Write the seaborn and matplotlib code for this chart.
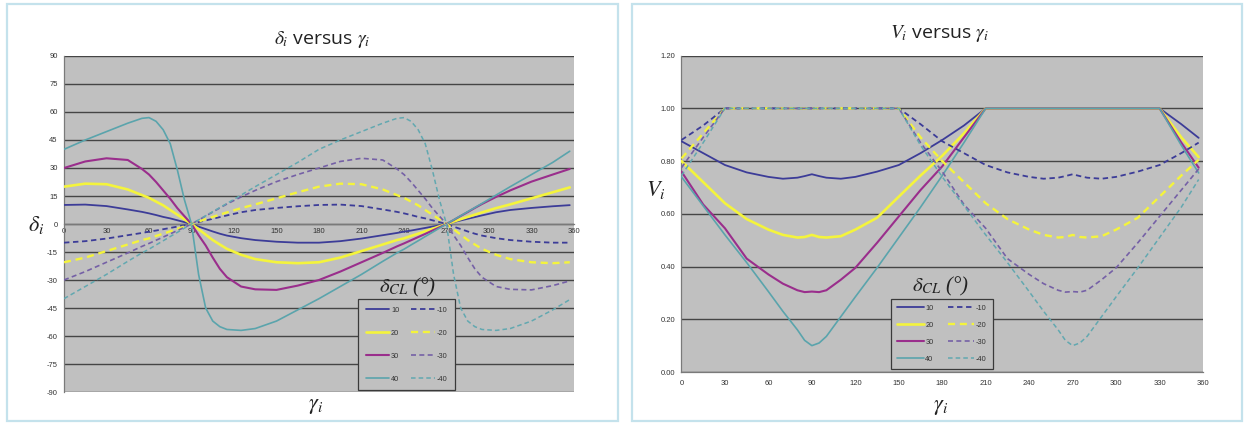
import matplotlib
matplotlib.use('Agg')
import matplotlib.pyplot as plt
import seaborn as sns
from matplotlib.lines import Line2D
from matplotlib.patches import Rectangle

# ---- left chart: delta_i versus gamma_i ----
gamma_d = [0, 15, 30, 45, 55, 60, 65, 70, 75, 80, 85, 90, 95, 100, 105, 110, 115, 125, 135, 150,
           165, 180, 195, 210, 225, 235, 240, 245, 250, 255, 260, 265, 270, 275, 280, 285, 290,
           295, 305, 315, 330, 345, 357]

delta_p10 = [10.2, 10.4, 9.6, 7.8, 6.5, 5.7, 4.8, 3.8, 3, 2, 1, 0, -1.4, -2.7, -4, -5.2, -6.2,
             -7.6, -8.6, -9.5, -10, -10, -9.2, -7.8, -6, -4.8, -4.1, -3.5, -2.8, -2.1, -1.4, -0.7,
             0, 1, 1.9, 2.8, 3.7, 4.6, 6.3, 7.5, 8.6, 9.5, 10.1]
delta_p20 = [20, 21.6, 21.3, 18.5, 15.5, 14, 12, 10, 7.5, 5, 2.5, 0, -2.8, -5.7, -8.6, -11, -13.3,
             -16.5, -18.8, -20.5, -21, -20.5, -18, -14.5, -11, -8.6, -7.7, -6.4, -5.2, -3.9, -2.6,
             -1.3, 0, 1.3, 2.6, 3.8, 5, 6.2, 8.5, 10.5, 13.75, 17, 19.6]
delta_p30 = [30, 33.5, 35.2, 34.3, 29.5, 26.5, 22.5, 18, 13.5, 8.5, 4.2, 0, -6, -11.5, -18, -24,
             -28.5, -33.5, -35, -35.3, -33, -30, -25.5, -20.5, -15.5, -12, -10.4, -8.7, -7, -5.3,
             -3.5, -1.8, 0, 2.1, 4.3, 6.4, 8.6, 10.7, 14.5, 18, 22.7, 26.5, 29.5]
delta_p40 = [40, 45, 49.5, 54, 56.6, 57, 55, 50.5, 43, 29, 13, 0, -27, -45, -52, -55, -56.5, -57,
             -56, -52, -46, -40, -33.5, -27, -20, -15.5, -13.5, -11.2, -9, -6.7, -4.5, -2.2, 0,
             2.2, 4.4, 6.6, 8.8, 11, 15.5, 20, 26.5, 33, 39]
delta_m10 = [-10, -9.2, -7.8, -6, -4.8, -4.1, -3.5, -2.8, -2.1, -1.4, -0.7, 0, 1, 1.9, 2.8, 3.7,
             4.6, 6.3, 7.5, 8.6, 9.5, 10.2, 10.4, 9.6, 7.8, 6.5, 5.7, 4.8, 3.8, 3, 2, 1, 0, -1.4,
             -2.7, -4, -5.2, -6.2, -7.6, -8.6, -9.5, -10, -10]
delta_m20 = [-20.5, -18, -14.5, -11, -8.6, -7.7, -6.4, -5.2, -3.9, -2.6, -1.3, 0, 1.3, 2.6, 3.8,
             5, 6.2, 8.5, 10.5, 13.75, 17, 20, 21.6, 21.3, 18.5, 15.5, 14, 12, 10, 7.5, 5, 2.5, 0,
             -2.8, -5.7, -8.6, -11, -13.3, -16.5, -18.8, -20.5, -21, -20.5]
delta_m30 = [-30, -25.5, -20.5, -15.5, -12, -10.4, -8.7, -7, -5.3, -3.5, -1.8, 0, 2.1, 4.3, 6.4,
             8.6, 10.7, 14.5, 18, 22.7, 26.5, 30, 33.5, 35.2, 34.3, 29.5, 26.5, 22.5, 18, 13.5,
             8.5, 4.2, 0, -6, -11.5, -18, -24, -28.5, -33.5, -35, -35.3, -33, -30.5]
delta_m40 = [-40, -33.5, -27, -20, -15.5, -13.5, -11.2, -9, -6.7, -4.5, -2.2, 0, 2.2, 4.4, 6.6,
             8.8, 11, 15.5, 20, 26.5, 33, 40, 45, 49.5, 54, 56.6, 57, 55, 50.5, 43, 29, 13, 0, -27,
             -45, -52, -55, -56.5, -57, -56, -52, -46, -40.5]

# ---- right chart: V_i versus gamma_i ----
gamma_v = [0, 15, 30, 45, 60, 70, 80, 85, 90, 95, 100, 110, 120, 135, 150, 165, 180, 195, 210,
           225, 240, 250, 260, 265, 270, 275, 280, 290, 300, 315, 330, 345, 357]

v_p10 = [0.875, 0.83, 0.785, 0.757, 0.74, 0.733, 0.737, 0.743, 0.75, 0.743, 0.737, 0.733, 0.74,
         0.76, 0.785, 0.83, 0.88, 0.935, 1, 1, 1, 1, 1, 1, 1, 1, 1, 1, 1, 1, 1, 0.94, 0.888]
v_p20 = [0.80, 0.72, 0.64, 0.58, 0.54, 0.52, 0.51, 0.512, 0.52, 0.512, 0.51, 0.515, 0.54, 0.585,
         0.665, 0.745, 0.82, 0.905, 1, 1, 1, 1, 1, 1, 1, 1, 1, 1, 1, 1, 1, 0.89, 0.815]
v_p30 = [0.76, 0.635, 0.545, 0.43, 0.37, 0.335, 0.31, 0.303, 0.305, 0.303, 0.31, 0.35, 0.395,
         0.49, 0.59, 0.69, 0.78, 0.89, 1, 1, 1, 1, 1, 1, 1, 1, 1, 1, 1, 1, 1, 0.87, 0.775]
v_p40 = [0.74, 0.63, 0.52, 0.415, 0.305, 0.23, 0.16, 0.12, 0.10, 0.11, 0.135, 0.21, 0.285,
         0.395, 0.51, 0.625, 0.745, 0.87, 1, 1, 1, 1, 1, 1, 1, 1, 1, 1, 1, 1, 1, 0.86, 0.755]
v_m10 = [0.88, 0.935, 1, 1, 1, 1, 1, 1, 1, 1, 1, 1, 1, 1, 1, 0.94, 0.875, 0.83, 0.785, 0.757,
         0.74, 0.733, 0.737, 0.743, 0.75, 0.743, 0.737, 0.733, 0.74, 0.76, 0.785, 0.83, 0.87]
v_m20 = [0.81, 0.905, 1, 1, 1, 1, 1, 1, 1, 1, 1, 1, 1, 1, 1, 0.89, 0.80, 0.72, 0.64, 0.58, 0.54,
         0.52, 0.51, 0.512, 0.52, 0.512, 0.51, 0.515, 0.54, 0.585, 0.665, 0.745, 0.805]
v_m30 = [0.775, 0.89, 1, 1, 1, 1, 1, 1, 1, 1, 1, 1, 1, 1, 1, 0.87, 0.76, 0.635, 0.545, 0.43,
         0.37, 0.335, 0.31, 0.303, 0.305, 0.303, 0.31, 0.35, 0.395, 0.49, 0.59, 0.69, 0.77]
v_m40 = [0.745, 0.87, 1, 1, 1, 1, 1, 1, 1, 1, 1, 1, 1, 1, 1, 0.86, 0.74, 0.63, 0.52, 0.415,
         0.305, 0.23, 0.16, 0.12, 0.10, 0.11, 0.135, 0.21, 0.285, 0.395, 0.51, 0.625, 0.73]

labels_pos = ['10', '20', '30', '40']
labels_neg = ['-10', '-20', '-30', '-40']

col_pos = ['#3c3c98', '#f4f43c', '#9a2e8c', '#5aa4ac']
col_neg = ['#3c3c98', '#f4f43c', '#7560a6', '#62a8b0']
lw_pos = [1.3, 1.9, 1.5, 1.2]
lw_neg = [1.3, 1.7, 1.2, 1.1]
dash = (0, (3.0, 2.0))

W, H = 1245, 423
BG = '#c0c0c0'
GRID = '#454545'


def px(x, y):
    return x / W, 1 - y / H


sns.set_style('white')
plt.rcParams['font.family'] = ['Liberation Sans', 'DejaVu Sans']
plt.rcParams['mathtext.fontset'] = 'stix'

fig = plt.figure(figsize=(W / 100, H / 100), dpi=100)
fig.patch.set_facecolor('white')

ax1 = fig.add_axes([64 / W, 1 - 392 / H, 510 / W, 336 / H])
ax2 = fig.add_axes([681.5 / W, 1 - 372 / H, 521.5 / W, 316.4 / H])


def draw_series(ax, g, pos, neg):
    handles = []
    for vals, c, lw in zip(pos, col_pos, lw_pos):
        sns.lineplot(x=g, y=vals, ax=ax, color=c, linewidth=lw, sort=False, estimator=None,
                     zorder=3)
        handles.append(Line2D([0], [0], color=c, lw=lw))
    for vals, c, lw in zip(neg, col_neg, lw_neg):
        sns.lineplot(x=g, y=vals, ax=ax, color=c, linewidth=lw, linestyle=dash, sort=False,
                     estimator=None, zorder=3)
        handles.append(Line2D([0], [0], color=c, lw=lw, linestyle=dash))
    return handles


def style_axes(ax, yticks, yfmt):
    ax.set_facecolor(BG)
    ax.set_xlim(0, 360)
    ax.set_ylim(yticks[0], yticks[-1])
    ax.set_xticks(range(0, 361, 30))
    ax.set_yticks(yticks)
    ax.set_yticklabels([yfmt(v) for v in yticks])
    for y in yticks:
        ax.axhline(y, color=GRID, lw=1.0, zorder=1)
    for s in ['top', 'right']:
        ax.spines[s].set_visible(False)
    for s in ['left', 'bottom']:
        ax.spines[s].set_color('#7a7a7a')
        ax.spines[s].set_linewidth(0.9)
        ax.spines[s].set_zorder(2)
    ax.tick_params(axis='both', labelsize=5.5, colors='#7a7a7a', labelcolor='#333333',
                   length=2.5, width=0.7, pad=2)
    ax.set_xlabel('')
    ax.set_ylabel('')


h1 = draw_series(ax1, gamma_d,
                 [delta_p10, delta_p20, delta_p30, delta_p40],
                 [delta_m10, delta_m20, delta_m30, delta_m40])
style_axes(ax1, list(range(-90, 91, 15)), lambda v: f'{v}')
ax1.spines['bottom'].set_position(('data', 0))
ax1.tick_params(axis='x', direction='inout', length=4, pad=1)

h2 = draw_series(ax2, gamma_v, [v_p10, v_p20, v_p30, v_p40], [v_m10, v_m20, v_m30, v_m40])
style_axes(ax2, [0, 0.2, 0.4, 0.6, 0.8, 1.0, 1.2], lambda v: f'{v:.2f}')
ax2.tick_params(axis='x', pad=3)

leg_kw = dict(ncol=2, loc='lower left', frameon=True, fancybox=False, edgecolor='#3a3a3a',
              facecolor=BG, framealpha=1, fontsize=5.3, handletextpad=0.25, borderaxespad=0)
lg1 = ax1.legend(h1, labels_pos + labels_neg, bbox_to_anchor=(0.577, 0.006), handlelength=3.2,
                 labelspacing=2.15, columnspacing=1.6, borderpad=1.0, **leg_kw)
lg2 = ax2.legend(h2, labels_pos + labels_neg, bbox_to_anchor=(0.402, 0.01), handlelength=3.6,
                 labelspacing=1.35, columnspacing=1.9, borderpad=0.8, **leg_kw)
for lg in (lg1, lg2):
    lg.get_frame().set_linewidth(0.9)
    lg.set_zorder(5)
    for t in lg.get_texts():
        t.set_color('#333333')

# titles and axis labels
title_kw = dict(ha='center', va='center', fontsize=14, color='#222222', family='Open Sans')
fig.text(*px(322, 39), r'$\delta_i$ versus $\gamma_i$', **title_kw)
fig.text(*px(940, 34), r'$V_i$ versus $\gamma_i$', **title_kw)

lab_kw = dict(ha='center', va='center', fontsize=16, color='#222222')
fig.text(*px(36, 225), r'$\delta_i$', **lab_kw)
fig.text(*px(656, 190), r'$V_i$', **lab_kw)
fig.text(*px(316, 405), r'$\gamma_i$', **lab_kw)
fig.text(*px(941, 406), r'$\gamma_i$', **lab_kw)

leg_title_kw = dict(ha='center', va='center', fontsize=15, color='#222222',
                    family='Liberation Serif', style='italic')
fig.text(*px(408, 287), r'$\delta_{CL}$ (°)', **leg_title_kw)
fig.text(*px(941, 286), r'$\delta_{CL}$ (°)', **leg_title_kw)

# panel frames
for x0, x1 in [(7, 618), (632, 1242)]:
    fig.patches.append(Rectangle(px(x0, 421), (x1 - x0) / W, 417 / H, transform=fig.transFigure,
                                 fill=False, edgecolor='#c4e2ec', lw=1.6))

fig.savefig('out.png', dpi=100, facecolor='white')
